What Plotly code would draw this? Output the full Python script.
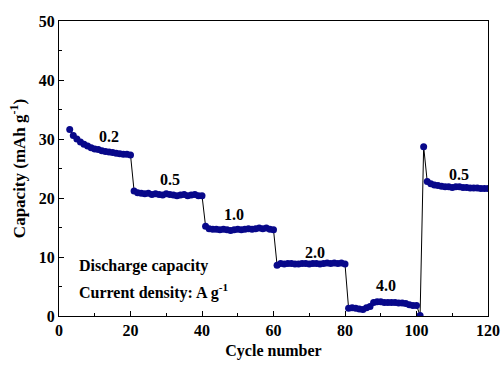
import plotly.graph_objects as go

cycles_02 = list(range(3, 21))
cap_02 = [31.6, 30.6, 30.0, 29.5, 29.1, 28.8, 28.5, 28.3, 28.2, 28.0, 27.9, 27.8, 27.7, 27.6, 27.5, 27.4, 27.4, 27.3]
cycles_05 = list(range(21, 41))
cap_05 = [21.2, 20.9, 20.8, 20.7, 20.8, 20.6, 20.7, 20.6, 20.5, 20.7, 20.6, 20.5, 20.4, 20.5, 20.6, 20.4, 20.5, 20.6, 20.4, 20.4]
cycles_10 = list(range(41, 61))
cap_10 = [15.2, 14.8, 14.7, 14.7, 14.6, 14.7, 14.6, 14.5, 14.6, 14.7, 14.6, 14.7, 14.8, 14.7, 14.8, 14.9, 14.8, 14.9, 14.7, 14.6]
cycles_20 = list(range(61, 81))
cap_20 = [8.6, 8.9, 8.8, 8.9, 8.9, 8.8, 8.8, 8.9, 8.9, 8.8, 8.9, 8.9, 8.8, 8.9, 9.0, 8.9, 9.0, 8.9, 9.0, 8.8]
cycles_40 = list(range(81, 101))
cap_40 = [1.3, 1.4, 1.3, 1.2, 1.1, 1.4, 1.6, 2.3, 2.4, 2.4, 2.3, 2.3, 2.3, 2.3, 2.2, 2.2, 2.1, 1.9, 1.8, 1.8]
cycles_05b = list(range(101, 121))
cap_05b = [0.1, 28.7, 22.8, 22.4, 22.2, 22.1, 22.0, 21.9, 21.9, 21.8, 21.9, 21.9, 21.8, 21.8, 21.7, 21.7, 21.7, 21.6, 21.6, 21.6]

rate_labels = ["0.2", "0.5", "1.0", "2.0", "4.0", "0.5"]
rate_label_x = [14, 31, 49, 71.5, 91.5, 112]
rate_label_y = [30.5, 23.2, 17.2, 10.8, 5.2, 24.0]

x_all = cycles_02 + cycles_05 + cycles_10 + cycles_20 + cycles_40 + cycles_05b
y_all = cap_02 + cap_05 + cap_10 + cap_20 + cap_40 + cap_05b

FONT = "Liberation Serif"

fig = go.Figure()
fig.add_trace(go.Scatter(
    x=x_all, y=y_all, mode="lines+markers",
    line=dict(color="black", width=1),
    marker=dict(color="#08088a", size=7, line=dict(width=0)),
    showlegend=False,
))

for t, x, y in zip(rate_labels, rate_label_x, rate_label_y):
    fig.add_annotation(x=x, y=y, text=t, showarrow=False,
                       font=dict(family=FONT, size=16, color="black", weight="bold"))

fig.add_annotation(x=5, y=8.5, text="Discharge capacity", showarrow=False, xanchor="left",
                   font=dict(family=FONT, size=16, color="black", weight="bold"))
fig.add_annotation(x=5, y=4.1, text="Current density: A g<sup>-1</sup>", showarrow=False, xanchor="left",
                   font=dict(family=FONT, size=16, color="black", weight="bold"))

axis_common = dict(
    showline=True, linecolor="black", linewidth=1, mirror=True, automargin=False,
    ticks="inside", ticklen=5, tickcolor="black", showgrid=False, zeroline=False,
    tickfont=dict(family=FONT, size=16, color="black", weight="bold"),
)

fig.update_xaxes(range=[0, 120], dtick=20, tick0=0,
                 minor=dict(dtick=10, ticks="inside", ticklen=3, tickcolor="black"),
                 title=dict(text="Cycle number", standoff=6,
                            font=dict(family=FONT, size=16, color="black", weight="bold")),
                 **axis_common)
fig.update_yaxes(range=[0, 50], dtick=10, tick0=0,
                 minor=dict(dtick=5, ticks="inside", ticklen=3, tickcolor="black"),
                 title=dict(text="Capacity (mAh g<sup>-1</sup>)", standoff=8,
                            font=dict(family=FONT, size=17, color="black", weight="bold")),
                 **axis_common)

fig.update_layout(
    width=504, height=365,
    margin=dict(l=59, r=16, t=21, b=49),
    plot_bgcolor="white", paper_bgcolor="white",
)

fig.write_html("out.html")
